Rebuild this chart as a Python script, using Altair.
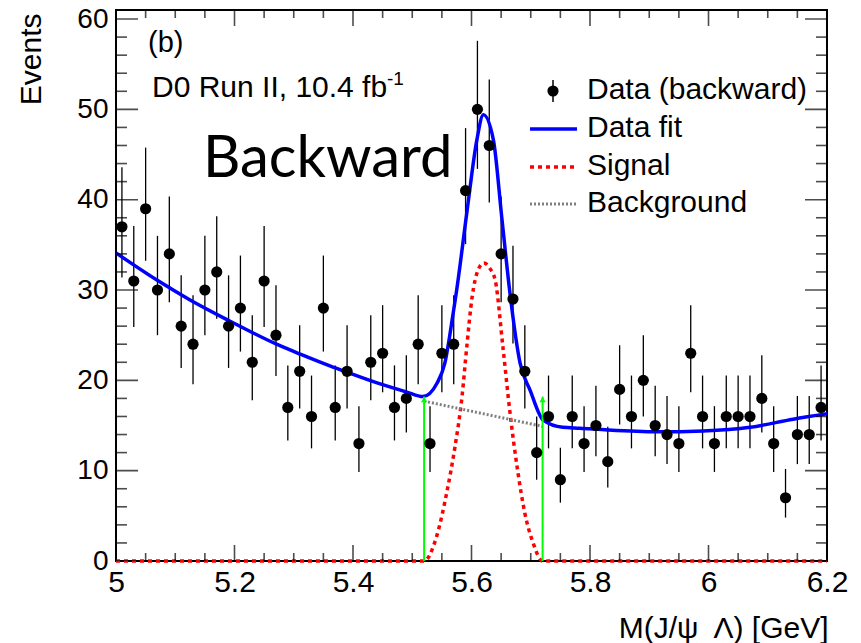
import altair as alt
import pandas as pd
import numpy as np

# ---------------- data ----------------
bin_centers = [5.01, 5.03, 5.05, 5.07, 5.09, 5.11, 5.13, 5.15, 5.17, 5.19,
               5.21, 5.23, 5.25, 5.27, 5.29, 5.31, 5.33, 5.35, 5.37, 5.39,
               5.41, 5.43, 5.45, 5.47, 5.49, 5.51, 5.53, 5.55, 5.57, 5.59,
               5.61, 5.63, 5.65, 5.67, 5.69, 5.71, 5.73, 5.75, 5.77, 5.79,
               5.81, 5.83, 5.85, 5.87, 5.89, 5.91, 5.93, 5.95, 5.97, 5.99,
               6.01, 6.03, 6.05, 6.07, 6.09, 6.11, 6.13, 6.15, 6.17, 6.19]
counts = [37, 31, 39, 30, 34, 26, 24, 30, 32, 26,
          28, 22, 31, 25, 17, 21, 16, 28, 17, 21,
          13, 22, 23, 17, 18, 24, 13, 23, 24, 41,
          50, 46, 34, 29, 21, 12, 16, 9, 16, 13,
          15, 11, 19, 16, 20, 15, 14, 13, 23, 16,
          13, 16, 16, 16, 18, 13, 7, 14, 14, 17]

fit_x = [5.00, 5.069, 5.125, 5.191, 5.271, 5.311, 5.361, 5.39, 5.446, 5.491,
         5.518, 5.542, 5.555, 5.569, 5.575, 5.592, 5.609, 5.620, 5.637, 5.651,
         5.665, 5.682, 5.699, 5.721, 5.754, 5.783, 5.830, 5.913, 5.991, 6.07,
         6.143, 6.2]
fit_y = [34.1, 31.1, 28.9, 26.6, 24.0, 22.9, 21.6, 20.9, 19.6, 18.7,
         18.2, 19.7, 21.9, 27.4, 30.0, 38.5, 46.6, 49.4, 46.6, 38.1,
         29.6, 21.9, 18.9, 15.6, 14.8, 14.7, 14.5, 14.3, 14.4, 14.8,
         15.7, 16.3]

sig_x = [5.00, 5.52, 5.541, 5.558, 5.572, 5.584, 5.592, 5.601, 5.611, 5.621,
         5.631, 5.64, 5.653, 5.665, 5.677, 5.69, 5.704, 5.72, 6.2]
sig_y = [0, 0, 2.7, 7.5, 12.6, 18.2, 23.7, 29.2, 32.2, 33.0,
         32.4, 31.1, 23.7, 16.4, 10.4, 5.3, 2.0, 0, 0]

bkg_x = [5.52, 5.72]
bkg_y = [17.7, 14.9]

arrow_x = [5.52, 5.72]
arrow_top = [18.2, 18.2]

x_major = [5.0, 5.2, 5.4, 5.6, 5.8, 6.0, 6.2]
x_minor = [5.05, 5.1, 5.15, 5.25, 5.3, 5.35, 5.45, 5.5, 5.55, 5.65, 5.7, 5.75,
           5.85, 5.9, 5.95, 6.05, 6.1, 6.15]
y_major = [0, 10, 20, 30, 40, 50, 60]
y_minor = [2, 4, 6, 8, 12, 14, 16, 18, 22, 24, 26, 28, 32, 34, 36, 38,
           42, 44, 46, 48, 52, 54, 56, 58]

legend_labels = ["Data (backward)", "Data fit", "Signal", "Background"]

# ---------------- tables ----------------
err_lo = [n - (np.sqrt(n + 0.25) - 0.5) for n in counts]
err_hi = [n + (np.sqrt(n + 0.25) + 0.5) for n in counts]
df_data = pd.DataFrame({"m": bin_centers, "v": counts, "lo": err_lo, "hi": err_hi})
df_fit = pd.DataFrame({"m": fit_x, "v": fit_y})
df_sig = pd.DataFrame({"m": sig_x, "v": sig_y})
df_bkg = pd.DataFrame({"m": bkg_x, "v": bkg_y})
df_arrow = pd.DataFrame({"m": arrow_x, "v": [0] * len(arrow_x), "hi": arrow_top})

FONT = "Liberation Sans"
XMIN, XMAX = 5.0, 6.2
YMIN, YMAX = 0, 61

xs = alt.Scale(domain=[XMIN, XMAX], nice=False, zero=False)
ys = alt.Scale(domain=[YMIN, YMAX], nice=False, zero=False)

x_axis = alt.Axis(values=x_major, format="~g", tickSize=0, domain=False, grid=False,
                  labelFont=FONT, labelFontSize=30, labelPadding=6, labelColor="black",
                  labelFlush=False, labelOverlap=False,
                  title="M(J/ψ\u2002Λ) [GeV]", titleFont=FONT, titleFontSize=30,
                  titleFontWeight="normal", titleColor="black", titleAlign="right",
                  titleAnchor="end", titleX=712, titleY=76, titleBaseline="alphabetic")
y_axis = alt.Axis(values=y_major, tickSize=0, domain=False, grid=False,
                  labelFont=FONT, labelFontSize=28, labelPadding=8, labelColor="black",
                  labelFlush=False, labelOverlap=False,
                  title="Events", titleFont=FONT, titleFontSize=30,
                  titleFontWeight="normal", titleColor="black", titleAngle=-90,
                  titleAlign="right", titleAnchor="end", titleX=-76, titleY=3,
                  titleBaseline="alphabetic")

X = alt.X("m:Q", scale=xs, axis=x_axis)
Y = alt.Y("v:Q", scale=ys, axis=y_axis)

layers = []

# error bars
layers.append(alt.Chart(df_data).mark_rule(color="black", strokeWidth=1.3, clip=True)
              .encode(x=X, y=alt.Y("lo:Q", scale=ys, axis=y_axis), y2="hi:Q"))
# signal (red dotted)
layers.append(alt.Chart(df_sig).mark_line(color="#ff0000", strokeWidth=3.5,
                                          strokeDash=[4, 4], interpolate="monotone")
              .encode(x=X, y=Y))
# background (gray dotted)
layers.append(alt.Chart(df_bkg).mark_line(color="#7f7f7f", strokeWidth=3,
                                          strokeDash=[2, 2])
              .encode(x=X, y=Y))
# fit
layers.append(alt.Chart(df_fit).mark_line(color="#0000ff", strokeWidth=3.5,
                                          interpolate="monotone", clip=True)
              .encode(x=X, y=Y))
# green arrows
layers.append(alt.Chart(df_arrow).mark_rule(color="#00ff00", strokeWidth=2)
              .encode(x=X, y=Y, y2="hi:Q"))
layers.append(alt.Chart(df_arrow).mark_point(shape="triangle-up", filled=True,
                                             color="#00ff00", size=40, opacity=1,
                                             yOffset=3)
              .encode(x=X, y=alt.Y("hi:Q", scale=ys, axis=y_axis)))
# data points
layers.append(alt.Chart(df_data).mark_circle(color="black", size=125, opacity=1)
              .encode(x=X, y=Y))

# inside tick marks (centred on the frame, half clipped away)
def xticks(vals, at, length, width):
    df = pd.DataFrame({"m": vals, "v": [at] * len(vals)})
    return (alt.Chart(df).mark_tick(orient="vertical", size=2 * length,
                                    thickness=width, color="black", clip=True)
            .encode(x=X, y=Y))

def yticks(vals, at, length, width):
    df = pd.DataFrame({"m": [at] * len(vals), "v": vals})
    return (alt.Chart(df).mark_tick(orient="horizontal", size=2 * length,
                                    thickness=width, color="black", clip=True)
            .encode(x=X, y=Y))

layers += [xticks(x_major, YMIN, 16, 1.6), xticks(x_minor, YMIN, 8, 1.6),
           xticks(x_major, YMAX, 16, 1.6), xticks(x_minor, YMAX, 8, 1.6),
           yticks(y_major, XMIN, 22, 1.6), yticks(y_minor, XMIN, 11, 1.6),
           yticks(y_major, XMAX, 22, 1.6), yticks(y_minor, XMAX, 11, 1.6)]

# annotations
def txt(text, x, y, size, font=FONT, align="left"):
    return alt.Chart(pd.DataFrame({"t": [text]})).mark_text(
        font=font, fontSize=size, align=align, baseline="alphabetic", color="black"
    ).encode(text="t:N", x=alt.value(x), y=alt.value(y))

layers.append(txt("(b)", 32, 42, 29))
layers.append(txt("D0 Run II, 10.4 fb", 36, 87, 30))
layers.append(txt("-1", 271, 75, 19))
layers.append(txt("Backward", 87, 167, 58, font="Lato"))

# legend
one = pd.DataFrame({"d": [0]})
LX1, LX2, LXT = 414, 461, 471
base_y = [89, 127, 165, 202]
layers.append(alt.Chart(one).mark_rule(color="black", strokeWidth=1.5)
              .encode(x=alt.value(437), y=alt.value(base_y[0] - 19), y2=alt.value(base_y[0] + 3)))
layers.append(alt.Chart(one).mark_circle(color="black", size=125, opacity=1)
              .encode(x=alt.value(437), y=alt.value(base_y[0] - 8)))
layers.append(alt.Chart(one).mark_rule(color="#0000ff", strokeWidth=3.5)
              .encode(x=alt.value(LX1), x2=alt.value(LX2), y=alt.value(base_y[1] - 8)))
layers.append(alt.Chart(one).mark_rule(color="#ff0000", strokeWidth=3.5, strokeDash=[4, 4])
              .encode(x=alt.value(LX1), x2=alt.value(LX2), y=alt.value(base_y[2] - 8)))
layers.append(alt.Chart(one).mark_rule(color="#7f7f7f", strokeWidth=3, strokeDash=[2, 2])
              .encode(x=alt.value(LX1), x2=alt.value(LX2), y=alt.value(base_y[3] - 8)))
for lab, by in zip(legend_labels, base_y):
    layers.append(txt(lab, LXT, by, 30))

chart = alt.layer(*layers).properties(
    width=711, height=551,
    autosize=alt.AutoSizeParams(type="none"),
    padding={"left": 116, "top": 10, "right": 34, "bottom": 82},
    background="white",
).configure_view(stroke="black", strokeWidth=2)

chart.save("out.html", embed_options={"renderer": "svg", "actions": False})
